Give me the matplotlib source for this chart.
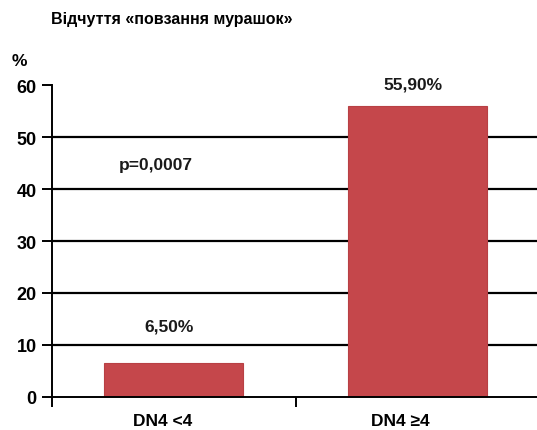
import matplotlib.pyplot as plt
import numpy as np

plt.rcParams['font.family'] = ['Liberation Sans', 'DejaVu Sans']

title = 'Відчуття «повзання мурашок»'
categories = ['DN4 <4', 'DN4 \u22654']
values = [6.5, 55.9]
value_labels = ['6,50%', '55,90%']
p_text = 'p=0,0007'
yticks = [0, 10, 20, 30, 40, 50, 60]


def main():
  fig = plt.figure(figsize=(5.37, 4.31), dpi=100)
  ax = fig.add_axes([0.097, 0.077, 0.903, 0.723])

  x = np.arange(len(categories))
  ax.set_xlim(-0.498, 1.49)
  ax.set_ylim(0, 60)

  # horizontal grid lines (no line at the top)
  for y in yticks[1:-1]:
    ax.axhline(y, color='black', lw=1.6, zorder=1)

  ax.bar(x, values, width=0.57, color='#C5474B', edgecolor='#B84044',
         linewidth=0.8, zorder=2)

  # value labels above the bars
  ax.text(x[0] - 0.02, 13.6, value_labels[0], ha='center', va='center',
          fontsize=12.5, fontweight='bold', color='#1a1a1a')
  ax.text(x[1] - 0.02, 60.3, value_labels[1], ha='center', va='center',
          fontsize=12.5, fontweight='bold', color='#1a1a1a', clip_on=False)
  ax.text(-0.072, 44.8, p_text, ha='center', va='center',
          fontsize=12.5, fontweight='bold', color='#1a1a1a')

  for s in ['top', 'right']:
    ax.spines[s].set_visible(False)
  for s in ['left', 'bottom']:
    ax.spines[s].set_linewidth(1.4)

  ax.set_yticks(yticks)
  ax.set_yticklabels([str(t) for t in yticks], fontsize=13, fontweight='bold')
  ax.tick_params(axis='y', direction='out', length=7, width=1.4, pad=4)

  ax.set_xticks(x + np.array([-0.045, -0.07]))
  ax.set_xticklabels(categories, fontsize=12.5, fontweight='bold')
  ax.tick_params(axis='x', which='major', length=0, pad=12)
  ax.set_xticks([-0.498, 0.5], minor=True)
  ax.tick_params(axis='x', which='minor', direction='out', length=7, width=1.4)

  fig.text(0.095, 0.955, title, fontsize=11.5, fontweight='bold', va='center')
  fig.text(0.022, 0.858, '%', fontsize=12.5, fontweight='bold', va='center')

  fig.savefig('out.png', dpi=100)


if __name__ == '__main__':
  main()
